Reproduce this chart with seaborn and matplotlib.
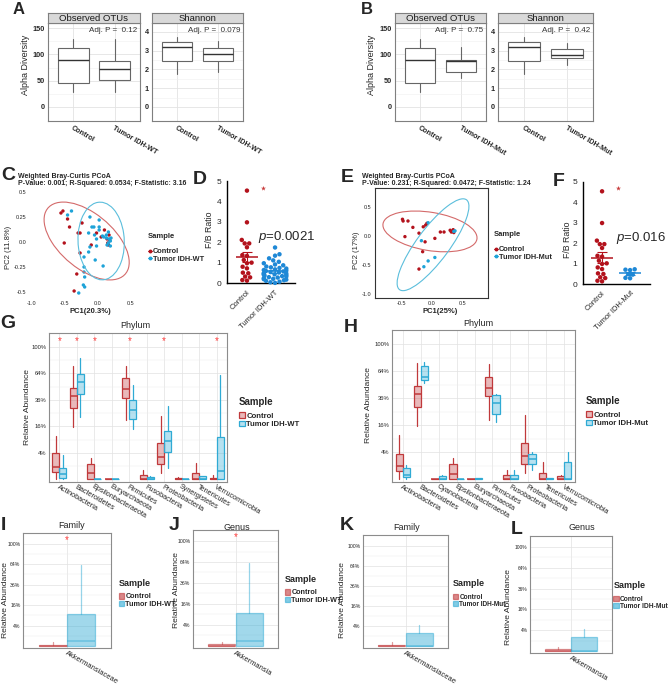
import numpy as np
import pandas as pd
import matplotlib
matplotlib.use("Agg")
import matplotlib.pyplot as plt
from matplotlib.patches import Ellipse, Patch
from matplotlib.lines import Line2D
from matplotlib.colors import to_rgba
import seaborn as sns

sns.set_style("white")
plt.rcParams['font.family'] = ['Liberation Sans', 'DejaVu Sans']
plt.rcParams['mathtext.fontset'] = 'custom'
plt.rcParams['mathtext.it'] = 'Liberation Sans:italic'
plt.rcParams['mathtext.rm'] = 'Liberation Sans'

# ---------------- data ----------------
# alpha diversity boxes: whisker low, q1, median, q3, whisker high
otu_ctrl = [28, 45, 90, 113, 130]
otu_wt = [28, 52, 72, 87, 130]
otu_mut = [55, 67, 87, 90, 115]
shan_ctrl = [1.78, 2.45, 3.2, 3.45, 3.72]
shan_wt = [1.85, 2.45, 2.85, 3.15, 3.5]
shan_mut = [2.25, 2.62, 2.78, 3.1, 3.4]

# PCoA points
c_ctrl_x = [-0.56, -0.53, -0.46, -0.43, -0.51, -0.24, -0.30, -0.27, -0.27, -0.32, -0.36,
            -0.10, -0.02, 0.05, 0.10, 0.14, 0.15, 0.16, 0.17, 0.18]
c_ctrl_y = [0.29, 0.31, 0.23, 0.15, -0.01, 0.19, 0.09, 0.09, -0.11, -0.32, -0.49,
            -0.03, 0.09, 0.05, 0.12, 0.03, -0.01, -0.03, 0.07, 0.02]
c_wt_x = [-0.40, -0.46, -0.12, 0.02, -0.09, -0.06, 0.02, 0.02, -0.14, -0.05, -0.02, 0.07,
          0.09, 0.13, 0.16, 0.13, 0.17, 0.19, 0.16, 0.20, 0.14, 0.19, -0.12, -0.02, -0.14,
          -0.04, -0.21, -0.21, 0.08, -0.21, -0.20, -0.22, -0.20, -0.29]
c_wt_y = [0.31, 0.27, 0.25, 0.22, 0.15, 0.15, 0.15, 0.12, 0.09, 0.07, 0.03, 0.06,
          0.05, 0.07, 0.10, 0.04, 0.03, 0.01, -0.01, 0.04, -0.03, -0.04, -0.05, -0.04, -0.10,
          -0.18, -0.15, -0.25, -0.24, -0.30, -0.35, -0.43, -0.45, -0.51]
e_ctrl_x = [-0.48, -0.47, -0.39, -0.31, -0.44, -0.21, -0.14, -0.10, -0.08, -0.11, -0.15,
            -0.21, 0.05, 0.14, 0.20, 0.30, 0.33, 0.35, 0.36, 0.32]
e_ctrl_y = [0.29, 0.26, 0.26, 0.15, -0.01, 0.05, 0.16, 0.19, 0.22, -0.10, -0.27,
            -0.57, -0.04, 0.07, 0.07, 0.10, 0.08, 0.11, 0.06, 0.07]
e_mut_x = [-0.06, -0.17, -0.06, 0.05, -0.13, 0.38, 0.36]
e_mut_y = [0.23, -0.08, -0.43, -0.37, -0.53, 0.09, 0.08]

# 95% ellipses: centre x, centre y, full width, full height, angle (deg)
c_ell_ctrl = [-0.17, 0.01, 1.38, 0.61, -23]
c_ell_wt = [0.05, 0.01, 0.70, 0.78, 12]
e_ell_ctrl = [-0.03, 0.08, 1.56, 0.66, -10]
e_ell_mut = [0.02, -0.15, 1.90, 0.54, 55]

# F/B ratio
fb_ctrl = [4.53, 2.98, 2.12, 1.95, 1.95, 1.76, 1.38, 1.34, 1.01, 0.98, 1.14, 0.73,
           0.81, 0.52, 0.49, 0.29, 0.33, 0.13, 0.16]
fb_wt = [1.75, 1.42, 1.35, 1.22, 1.12, 1.05, 0.98, 0.92, 0.88, 0.82, 0.78, 0.75, 0.72,
         0.68, 0.65, 0.62, 0.60, 0.58, 0.55, 0.53, 0.50, 0.48, 0.46, 0.44, 0.42, 0.40,
         0.38, 0.35, 0.33, 0.30, 0.28, 0.25, 0.22, 0.20, 0.18, 0.15, 0.12, 0.08, 0.05, 0.02]
fb_mut = [0.72, 0.70, 0.68, 0.48, 0.46, 0.30, 0.28]
fb_star = 4.68

# phylum relative abundance (%): whisker low, q1, median, q3, whisker high
phyla_g = ["Actinobacteria", "Bacteroidetes", "Epsilonbacteraeota", "Euryarchaeota",
           "Firmicutes", "Fusobacteria", "Proteobacteria", "Synergistetes",
           "Tenericutes", "Verrucomicrobia"]
g_ctrl = [[0, 0.35, 0.94, 3.9, 10.8], [15.8, 28.8, 39.7, 47.3, 73.4], [0, 0, 0.22, 1.37, 2.56],
          [0, 0, 0, 0.001, 0.002], [20.2, 37.6, 46.6, 58.4, 73.4], [0, 0, 0.001, 0.12, 0.52],
          [0.22, 1.32, 2.96, 7.45, 22.9], [0, 0, 0, 0.01, 0.02], [0, 0, 0, 0.26, 1.61],
          [0, 0, 0, 0.014, 0.11]]
g_wt = [[0, 0.01, 0.15, 0.79, 3.42], [22.0, 41.3, 53.7, 63.4, 83.7], [0, 0, 0, 0.003, 0.003],
        [0, 0, 0, 0.001, 0.001], [14.5, 20.6, 27.6, 36.0, 50.8], [0, 0, 0.003, 0.023, 0.06],
        [0.72, 4.41, 8.58, 13.4, 30.8], [0, 0, 0, 0.001, 0.001], [0, 0, 0, 0.06, 0.08],
        [0, 0, 0.41, 10.1, 62.3]]
g_signif = ["Actinobacteria", "Bacteroidetes", "Epsilonbacteraeota", "Firmicutes",
            "Proteobacteria", "Verrucomicrobia"]

phyla_h = ["Actinobacteria", "Bacteroidetes", "Cyanobacteria", "Epsilonbacteraeota",
           "Euryarchaeota", "Firmicutes", "Fusobacteria", "Proteobacteria",
           "Tenericutes", "Verrucomicrobia"]
h_ctrl = [[0, 0.35, 0.92, 3.61, 10.6], [15.6, 28.7, 39.7, 47.5, 74.3], [0, 0, 0, 0.001, 0.001],
          [0, 0, 0.18, 1.35, 2.5], [0, 0, 0, 0.001, 0.001], [19.5, 37.8, 46.1, 57.5, 73.4],
          [0, 0, 0, 0.12, 0.52], [0.22, 1.35, 2.99, 7.4, 22.9], [0, 0, 0, 0.22, 1.64],
          [0, 0, 0, 0.05, 0.1]]
h_mut = [[0, 0.02, 0.09, 0.76, 1.08], [50.8, 54.5, 57.5, 70.1, 75.5], [0, 0, 0.001, 0.044, 0.096],
         [0, 0, 0, 0.001, 0.001], [0, 0, 0, 0.01, 0.01], [18.1, 23.7, 31.9, 38.7, 40.3],
         [0, 0, 0, 0.09, 0.45], [0.45, 1.35, 2.34, 3.61, 4.08], [0, 0, 0, 0.014, 0.014],
         [0, 0, 0, 1.64, 4.08]]

# Akkermansia family / genus (%)
akk_ctrl = [0, 0, 0.001, 0.02, 0.14]
akk_wt = [0, 0, 0.19, 10.0, 63.2]
akk_mut = [0, 0, 0, 1.7, 4.4]

RED, BLUE = "#B3121C", "#1E88D6"
BOX_RED, BOX_BLUE = "#C0393B", "#2FAAD4"

W, H = 669, 688
fig = plt.figure(figsize=(W / 100, H / 100), dpi=100)


def add_ax(x0, y0, x1, y1):
    return fig.add_axes([x0 / W, 1 - y1 / H, (x1 - x0) / W, (y1 - y0) / H])


def ftext(x, y, s, **kw):
    fig.text(x / W, 1 - y / H, s, **kw)


def mkstats(v):
    return dict(whislo=v[0], q1=v[1], med=v[2], q3=v[3], whishi=v[4], fliers=[])


def gg_frame(ax, col="#8A8A8A"):
    for sp in ax.spines.values():
        sp.set_visible(True)
        sp.set_color(col)
        sp.set_linewidth(0.8)
    ax.tick_params(length=1.5, width=0.5, color="#555555", pad=1)
    ax.set_axisbelow(True)


# ---------------- A / B alpha diversity ----------------
def alpha_facet(xs, stats, ylim, yticks, minor, title, ptxt, labels):
    ax = add_ax(xs[0], 23, xs[1], 121)
    st = add_ax(xs[0], 13, xs[1], 23)
    st.set_facecolor("#D9D9D9")
    st.set_xticks([]); st.set_yticks([])
    for sp in st.spines.values():
        sp.set_color("#7F7F7F"); sp.set_linewidth(0.8)
    st.text(0.5, 0.45, title, ha="center", va="center", fontsize=6.8, color="#1A1A1A")
    ax.bxp([mkstats(s) for s in stats], positions=[0, 1], widths=0.74, showfliers=False,
           showcaps=False, patch_artist=True,
           boxprops=dict(facecolor="white", edgecolor="#666666", lw=0.8),
           whiskerprops=dict(color="#666666", lw=0.8),
           medianprops=dict(color="#333333", lw=1.0))
    ax.set_xlim(-0.6, 1.6)
    ax.set_ylim(*ylim)
    ax.set_yticks(yticks)
    ax.set_yticks(minor, minor=True)
    ax.set_xticks([0, 1])
    ax.set_xticklabels(labels, rotation=-30, ha="left", va="top", rotation_mode="anchor",
                       fontsize=5.2, fontweight="bold")
    ax.tick_params(axis="y", labelsize=5.2)
    for t in ax.get_yticklabels():
        t.set_fontweight("bold")
    ax.grid(True, which="major", color="#E3E3E3", lw=0.6)
    ax.grid(True, which="minor", axis="y", color="#EFEFEF", lw=0.4)
    gg_frame(ax, "#7F7F7F")
    ax.text(0.97, 0.92, ptxt, transform=ax.transAxes, ha="right", va="center",
            fontsize=5.8, color="#333333")


alpha_facet((48, 140), [otu_ctrl, otu_wt], (-27, 160), [0, 50, 100, 150], [25, 75, 125],
            "Observed OTUs", "Adj. P =  0.12", ["Control", "Tumor IDH-WT"])
alpha_facet((152, 243), [shan_ctrl, shan_wt], (-0.75, 4.48), [0, 1, 2, 3, 4],
            [0.5, 1.5, 2.5, 3.5], "Shannon", "Adj. P =  0.079", ["Control", "Tumor IDH-WT"])
alpha_facet((395, 486), [otu_ctrl, otu_mut], (-27, 160), [0, 50, 100, 150], [25, 75, 125],
            "Observed OTUs", "Adj. P =  0.75", ["Control", "Tumor IDH-Mut"])
alpha_facet((498, 593), [shan_ctrl, shan_mut], (-0.75, 4.48), [0, 1, 2, 3, 4],
            [0.5, 1.5, 2.5, 3.5], "Shannon", "Adj. P =  0.42", ["Control", "Tumor IDH-Mut"])
ftext(25, 65, "Alpha Diversity", rotation=90, ha="center", va="center", fontsize=6.5)
ftext(371, 65, "Alpha Diversity", rotation=90, ha="center", va="center", fontsize=6.5)


# ---------------- C / E PCoA ----------------
def pcoa(box, xlim, ylim, xt, yt, ctrl_xy, oth_xy, ells, frame, other_label):
    ax = add_ax(*box)
    df = pd.DataFrame({"x": ctrl_xy[0] + oth_xy[0], "y": ctrl_xy[1] + oth_xy[1],
                       "Sample": ["Control"] * len(ctrl_xy[0]) + [other_label] * len(oth_xy[0])})
    sns.scatterplot(data=df, x="x", y="y", hue="Sample", palette=[RED, "#1EA3D8"],
                    s=6, linewidth=0, legend=False, ax=ax)
    for e, col in zip(ells, ["#D46A6A", "#5BBEDC"]):
        ax.add_patch(Ellipse((e[0], e[1]), e[2], e[3], angle=e[4], fill=False,
                             edgecolor=col, lw=0.8))
    ax.set_xlim(*xlim); ax.set_ylim(*ylim)
    ax.set_xticks(xt); ax.set_yticks(yt)
    ax.set_xticklabels([f"{v:.1f}" for v in xt], fontsize=4)
    ax.set_yticklabels([f"{v:g}" if abs(v) in (0.25,) else f"{v:.1f}" for v in yt], fontsize=4)
    ax.set_xlabel(""); ax.set_ylabel("")
    ax.tick_params(length=1.5, width=0.5, pad=1)
    for sp in ax.spines.values():
        sp.set_visible(frame)
        sp.set_color("#333333"); sp.set_linewidth(0.8)
    return ax


pcoa((30, 190, 140, 298), (-1.03, 0.64), (-0.56, 0.52), [-1.0, -0.5, 0.0, 0.5],
     [-0.5, -0.25, 0.0, 0.25, 0.5], (c_ctrl_x, c_ctrl_y), (c_wt_x, c_wt_y),
     [c_ell_ctrl, c_ell_wt], False, "Tumor IDH-WT")
pcoa((375, 188, 488, 298), (-0.93, 0.92), (-1.07, 0.83), [-0.5, 0.0, 0.5],
     [-1.0, -0.5, 0.0, 0.5], (e_ctrl_x, e_ctrl_y), (e_mut_x, e_mut_y),
     [e_ell_ctrl, e_ell_mut], True, "Tumor IDH-Mut")

for x0, lines in [(18, ["Weighted Bray-Curtis PCoA",
                        "P-Value: 0.001; R-Squared: 0.0534; F-Statistic: 3.16"]),
                  (362, ["Weighted Bray-Curtis PCoA",
                         "P-Value: 0.231; R-Squared: 0.0472; F-Statistic: 1.24"])]:
    ftext(x0, 176, lines[0], fontsize=5, fontweight="bold", va="center")
    ftext(x0, 183.5, lines[1], fontsize=5, fontweight="bold", va="center")
ftext(9, 247, "PC2 (11.8%)", rotation=90, ha="center", va="center", fontsize=5.5)
ftext(90, 312, "PC1(20.3%)", ha="center", va="center", fontsize=5.5, fontweight="bold")
ftext(357, 250, "PC2 (17%)", rotation=90, ha="center", va="center", fontsize=5.5)
ftext(440, 312, "PC1(25%)", ha="center", va="center", fontsize=5.5, fontweight="bold")


def pc_legend(x, y, other_label):
    hs = [Line2D([0], [0], color=RED, lw=0.7, marker="o", markersize=1.8),
          Line2D([0], [0], color="#1EA3D8", lw=0.7, marker="o", markersize=1.8)]
    lg = fig.legend(hs, ["Control", other_label], title="Sample", loc="upper left",
                    bbox_to_anchor=(x / W, 1 - y / H), frameon=False, borderpad=0,
                    handlelength=0.6, handletextpad=0.1, labelspacing=0.05,
                    prop={"size": 5.3, "weight": "bold"},
                    title_fontproperties={"size": 5.5, "weight": "bold"})
    lg._legend_box.align = "left"
    lg._legend_box.sep = 6


pc_legend(144, 229, "Tumor IDH-WT")
pc_legend(490, 227, "Tumor IDH-Mut")


# ---------------- D / F F/B ratio ----------------
def fb_panel(box, xlim, other, other_label, ptxt, pxy):
    ax = add_ax(*box)
    df = pd.DataFrame({"ratio": fb_ctrl + other,
                       "group": ["Control"] * len(fb_ctrl) + [other_label] * len(other)})
    sns.swarmplot(data=df, x="group", y="ratio", hue="group", order=["Control", other_label],
                  palette=[RED, BLUE], size=3.2, ax=ax, legend=False)
    for coll in ax.collections:
        coll.set_clip_on(False)
    for i, (vals, col) in enumerate([(fb_ctrl, RED), (other, BLUE)]):
        v = np.array(vals)
        m = v.mean()
        se = v.std(ddof=1) / np.sqrt(len(v))
        ax.hlines(m, i - 0.38, i + 0.38, color=col, lw=1.1, zorder=5)
        ax.vlines(i, m - se, m + se, color=col, lw=0.8, zorder=5)
        ax.hlines([m - se, m + se], i - 0.17, i + 0.17, color=col, lw=0.8, zorder=5)
    ax.scatter([0.58], [fb_star], marker="*", s=14, color="#C83A3A", linewidths=0,
               clip_on=False, zorder=6)
    ax.set_xlim(*xlim); ax.set_ylim(0, 5)
    ax.set_yticks([0, 1, 2, 3, 4, 5])
    ax.set_xlabel(""); ax.set_ylabel("")
    ax.set_xticks([0, 1])
    ax.set_xticklabels(["Control", other_label], rotation=45, ha="right",
                       rotation_mode="anchor", fontsize=5.5)
    ax.tick_params(axis="y", labelsize=6, length=2.5, width=0.9, pad=1.5)
    ax.tick_params(axis="x", length=2.5, width=0.9, pad=1.5)
    sns.despine(ax=ax)
    for sp in ("left", "bottom"):
        ax.spines[sp].set_linewidth(1.0); ax.spines[sp].set_color("black")
    ftext(pxy[0], pxy[1], ptxt, fontsize=9.5, va="center", ha="left")


fb_panel((227, 181, 295, 283.3), (-0.71, 1.71), fb_wt, "Tumor IDH-WT", r"$\it{p}$=0.0021",
         (258, 237))
fb_panel((583, 181.7, 650, 284), (-0.68, 1.71), fb_mut, "Tumor IDH-Mut", r"$\it{p}$=0.016",
         (616, 238))
ftext(210, 230, "F/B Ratio", rotation=90, ha="center", va="center", fontsize=6.3)
ftext(568, 240, "F/B Ratio", rotation=90, ha="center", va="center", fontsize=6.3)


# ---------------- G / H phylum, I-L family / genus ----------------
YT = [4, 16, 36, 64, 100]


def abundance(box, cats, ctrl, other, offs, width, fill_alpha, edge_alpha, xfs, yfs):
    ax = add_ax(*box)
    pos = np.arange(len(cats))
    for data, off, col in [(ctrl, -offs, BOX_RED), (other, offs, BOX_BLUE)]:
        st = [mkstats(np.sqrt(np.array(v) / 100.0)) for v in data]
        ec = to_rgba(col, edge_alpha)
        ax.bxp(st, positions=pos + off, widths=width, showfliers=False, showcaps=False,
               patch_artist=True,
               boxprops=dict(facecolor=to_rgba(col, fill_alpha), edgecolor=ec, lw=0.9),
               whiskerprops=dict(color=ec, lw=0.9),
               medianprops=dict(color=ec, lw=1.1))
    ax.set_xlim(-0.6, len(cats) - 0.4)
    ax.set_ylim(-0.02, 1.105)
    ax.set_yticks(np.sqrt(np.array(YT) / 100.0))
    ax.set_yticklabels([f"{v}%" for v in YT], fontsize=yfs)
    ax.set_yticks([0.1, 0.3, 0.5, 0.7, 0.9], minor=True)
    ax.set_xticks(pos)
    ax.set_xticklabels(cats, rotation=-30, ha="left", va="top", rotation_mode="anchor",
                       fontsize=xfs)
    ax.grid(True, which="major", color="#E2E2E2", lw=0.5)
    ax.grid(True, which="minor", axis="y", color="#EEEEEE", lw=0.35)
    gg_frame(ax, "#8C8C8C")
    ax.tick_params(axis="x", length=0)
    ax.tick_params(axis="y", pad=0.6, length=1.2)
    return ax


axg = abundance((49, 333, 227, 482), phyla_g, g_ctrl, g_wt, 0.2, 0.4, 0.35, 1.0, 5.2, 4.2)
for c in g_signif:
    axg.text(phyla_g.index(c), 1.045, "*", color="#FF3B3B", ha="center", va="center",
             fontsize=7)
abundance((392, 330, 575, 482), phyla_h, h_ctrl, h_mut, 0.2, 0.4, 0.35, 1.0, 5.2, 4.2)

axi = abundance((23, 533, 111, 648), ["Akkermansiaceae"], [akk_ctrl], [akk_wt], 0.195, 0.38,
                0.45, 0.5, 5.4, 3.7)
axi.text(0, 1.04, "*", color="#FF3B3B", ha="center", va="center", fontsize=7)
axj = abundance((193, 530, 278, 648), ["Akkermansia"], [akk_ctrl], [akk_wt], 0.195, 0.38,
                0.45, 0.5, 5.4, 3.7)
axj.text(0, 1.04, "*", color="#FF3B3B", ha="center", va="center", fontsize=7)
abundance((363, 535, 448, 648), ["Akkermansiaceae"], [akk_ctrl], [akk_mut], 0.195, 0.38,
          0.45, 0.5, 5.4, 3.7)
abundance((530, 536, 612, 653), ["Akkermansia"], [akk_ctrl], [akk_mut], 0.195, 0.38,
          0.45, 0.5, 5.4, 3.5)

for x, y, s in [(135, 325, "Phylum"), (478, 323, "Phylum"), (72, 526, "Family"),
                (237, 527, "Genus"), (407, 528, "Family"), (582, 527, "Genus")]:
    ftext(x, y, s, ha="center", va="center", fontsize=6.5)
for x, y in [(28, 407), (368, 405), (6, 600), (176, 590), (343, 600), (509, 607)]:
    ftext(x, y, "Relative Abundance", rotation=90, ha="center", va="center", fontsize=6.1)


def box_legend(x, y, other_label, fill_alpha, edge_alpha, tsize, lsize):
    hs = [Patch(facecolor=to_rgba(c, fill_alpha), edgecolor=to_rgba(c, edge_alpha), lw=0.9)
          for c in (BOX_RED, BOX_BLUE)]
    lg = fig.legend(hs, ["Control", other_label], title="Sample", loc="upper left",
                    bbox_to_anchor=(x / W, 1 - y / H), frameon=False, borderpad=0,
                    handlelength=0.8, handleheight=0.8, handletextpad=0.15,
                    labelspacing=0.05, prop={"size": lsize, "weight": "bold"},
                    title_fontproperties={"size": tsize, "weight": "bold"})
    lg._legend_box.align = "left"
    lg._legend_box.sep = 4


box_legend(235, 393, "Tumor IDH-WT", 0.35, 1.0, 7, 5.6)
box_legend(582, 392, "Tumor IDH-Mut", 0.35, 1.0, 7, 5.6)
box_legend(115, 575, "Tumor IDH-WT", 0.6, 0.6, 6.5, 5.2)
box_legend(281, 571, "Tumor IDH-WT", 0.6, 0.6, 6.5, 5.2)
box_legend(450, 576, "Tumor IDH-Mut", 0.6, 0.6, 6.5, 4.7)
box_legend(610, 578, "Tumor IDH-Mut", 0.6, 0.6, 6.5, 4.8)

# panel letters
for s, x, y, fs in [("A", 19, 10, 12), ("B", 367, 9, 12), ("C", 8, 175, 14), ("D", 200, 179, 14),
                    ("E", 347, 178, 14), ("F", 559, 181, 14), ("G", 8, 323, 14),
                    ("H", 351, 327, 14), ("I", 3, 525, 14), ("J", 174, 525, 14),
                    ("K", 347, 525, 14), ("L", 517, 529, 14)]:
    ftext(x, y, s, fontsize=fs, fontweight="bold", ha="center", va="center")

fig.savefig("out.png", dpi=100)
